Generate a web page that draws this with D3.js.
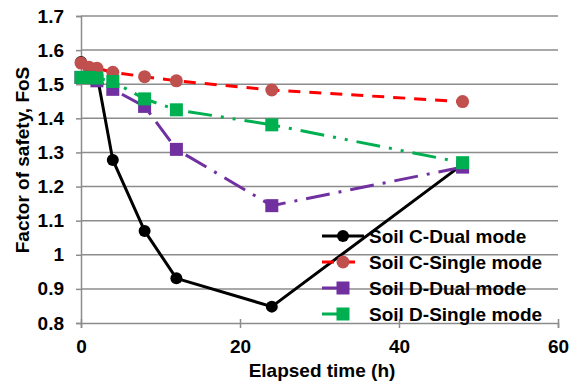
<!DOCTYPE html>
<html><head><meta charset="utf-8">
<script src="https://cdn.jsdelivr.net/npm/d3@7"></script>
<style>body{margin:0;background:#fff}svg{display:block}text{font-family:"Liberation Sans",Arial,sans-serif;font-weight:bold;fill:#000}</style>
</head><body>
<svg id="c" width="569" height="385"></svg>
<script>
const times = [0, 1, 2, 4, 8, 12, 24, 48];
const soilCDual = [1.565, 1.55, 1.53, 1.278, 1.07, 0.931, 0.848, 1.265];
const soilCSingle = [1.562, 1.55, 1.547, 1.535, 1.522, 1.51, 1.483, 1.449];
const soilDDual = [1.52, 1.52, 1.51, 1.485, 1.435, 1.309, 1.144, 1.257];
const soilDSingle = [1.52, 1.52, 1.518, 1.508, 1.457, 1.425, 1.381, 1.27];
const seriesNames = ["Soil C-Dual mode", "Soil C-Single mode", "Soil D-Dual mode", "Soil D-Single mode"];
const xTicks = [0, 20, 40, 60];
const yTicks = [0.8, 0.9, 1.0, 1.1, 1.2, 1.3, 1.4, 1.5, 1.6, 1.7];

const series = [
  {name: seriesNames[0], vals: soilCDual, line: "#000", marker: "#000", shape: "circle", r: 6, dash: null},
  {name: seriesNames[1], vals: soilCSingle, line: "#FF0000", marker: "#C0504D", shape: "circle", r: 6.5, dash: "12,9"},
  {name: seriesNames[2], vals: soilDDual, line: "#7030A0", marker: "#7030A0", shape: "square", r: 6.5, dash: "24,9,3,9"},
  {name: seriesNames[3], vals: soilDSingle, line: "#00B050", marker: "#00B050", shape: "square", r: 6.5, dash: "24,9,3,9,3,9"}
];

const FS = "19px";
const svg = d3.select("#c");
const x = d3.scaleLinear().domain([0, 60]).range([81, 558]);
const y = d3.scaleLinear().domain([0.8, 1.7]).range([323, 16]);

svg.append("g").selectAll("line").data(yTicks.slice(1)).join("line")
  .attr("x1", x(0)).attr("x2", x(60)).attr("y1", d => y(d)).attr("y2", d => y(d))
  .attr("stroke", "#8c8c8c").attr("stroke-width", 1.5);

const fmt = d => (Math.abs(d - 1) < 1e-9 ? "1" : d3.format(".1f")(d));
const yAxis = svg.append("g").attr("transform", `translate(${x(0)},0)`)
  .call(d3.axisLeft(y).tickValues(yTicks).tickFormat(fmt).tickSize(5).tickPadding(12));
const xAxis = svg.append("g").attr("transform", `translate(0,${y(0.8)})`)
  .call(d3.axisBottom(x).tickValues(xTicks).tickFormat(d3.format("d")).tickSize(5).tickPadding(12));
[yAxis, xAxis].forEach(a => {
  a.selectAll("path").attr("stroke", "#8c8c8c").attr("stroke-width", 1.5);
  a.selectAll("line").attr("stroke", "#8c8c8c").attr("stroke-width", 1.5);
  a.selectAll("text").style("font-size", FS).style("font-family", '"Liberation Sans",Arial,sans-serif').style("font-weight", "bold").attr("fill", "#000");
});
xAxis.selectAll(".tick line").attr("y1", -4);

svg.append("text").attr("x", 322).attr("y", 377).attr("text-anchor", "middle").style("font-size", FS).text("Elapsed time (h)");
svg.append("text").attr("transform", "translate(29,160) rotate(-90)").attr("text-anchor", "middle").style("font-size", FS).text("Factor of safety, FoS");

const line = d3.line().x((d, i) => x(times[i])).y(d => y(d));
function drawMarker(g, shape, cx, cy, r, color) {
  if (shape === "circle") g.append("circle").attr("cx", cx).attr("cy", cy).attr("r", r).attr("fill", color);
  else g.append("rect").attr("x", cx - r).attr("y", cy - r).attr("width", 2 * r).attr("height", 2 * r).attr("fill", color);
}
series.forEach(s => {
  const g = svg.append("g");
  g.append("path").datum(s.vals).attr("d", line).attr("fill", "none").attr("stroke", s.line)
    .attr("stroke-width", 3).attr("stroke-dasharray", s.dash).attr("stroke-linejoin", "round");
  s.vals.forEach((v, i) => drawMarker(g, s.shape, x(times[i]), y(v), s.r, s.marker));
});

const lg = svg.append("g");
series.forEach((s, i) => {
  const cy = 236 + i * 26;
  lg.append("line").attr("x1", 322).attr("x2", 364).attr("y1", cy).attr("y2", cy)
    .attr("stroke", s.line).attr("stroke-width", 3).attr("stroke-dasharray", s.dash ? (s.shape === "square" ? "20,5,2,30" : "12,9") : null);
  drawMarker(lg, s.shape, 343, cy, s.r, s.marker);
  lg.append("text").attr("x", 369).attr("y", cy).attr("dy", "0.36em").style("font-size", FS).text(s.name);
});
</script>
</body></html>
